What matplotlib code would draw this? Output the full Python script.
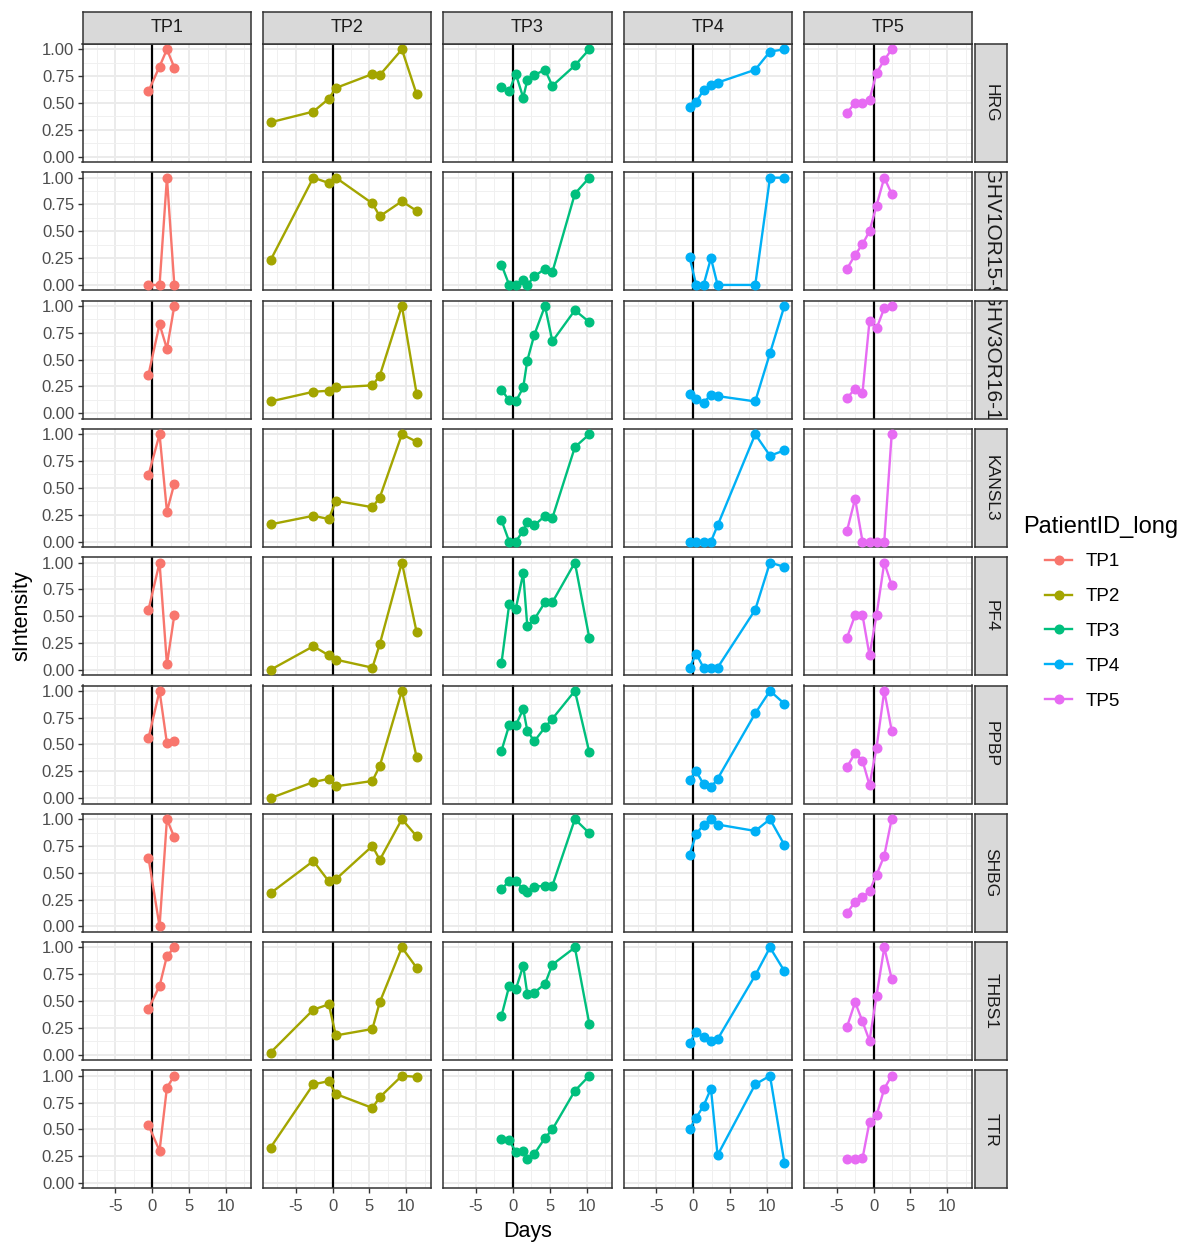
import matplotlib.pyplot as plt
import numpy as np
from matplotlib.lines import Line2D
from matplotlib.ticker import MultipleLocator, FormatStrFormatter

plt.rcParams["font.family"] = ["Liberation Sans", "DejaVu Sans"]
plt.rcParams["axes.unicode_minus"] = False

patients = ["TP1", "TP2", "TP3", "TP4", "TP5"]
colors = ["#F8766D", "#A3A500", "#00BF7D", "#00B0F6", "#E76BF3"]
genes = ["HRG", "IGHV1OR15-9", "IGHV3OR16-10", "KANSL3", "PF4", "PPBP", "SHBG", "THBS1", "TTR"]

# sampling days per patient
days_tp1 = [-0.5, 1.0, 2.0, 3.0]
days_tp2 = [-8.4, -2.6, -0.5, 0.45, 5.4, 6.4, 9.4, 11.4]
days_tp3 = [-1.55, -0.5, 0.4, 1.4, 1.95, 2.9, 4.35, 5.35, 8.4, 10.35]
days_tp4 = [-0.5, 0.4, 1.4, 2.4, 3.3, 8.4, 10.4, 12.35]
days_tp5 = [-3.6, -2.5, -1.5, -0.55, 0.4, 1.45, 2.45]
days = [days_tp1, days_tp2, days_tp3, days_tp4, days_tp5]

# scaled intensity per gene, one list per patient (TP1..TP5)
hrg = [
    [0.61, 0.84, 1.00, 0.83],
    [0.32, 0.42, 0.54, 0.64, 0.77, 0.76, 1.00, 0.58],
    [0.65, 0.61, 0.77, 0.55, 0.71, 0.76, 0.81, 0.66, 0.85, 1.00],
    [0.46, 0.51, 0.62, 0.67, 0.69, 0.81, 0.98, 1.00],
    [0.41, 0.50, 0.50, 0.53, 0.78, 0.90, 1.00],
]
ighv1 = [
    [0.00, 0.00, 1.00, 0.00],
    [0.23, 1.00, 0.95, 1.00, 0.76, 0.64, 0.78, 0.69],
    [0.19, 0.00, 0.00, 0.05, 0.00, 0.08, 0.15, 0.12, 0.85, 1.00],
    [0.26, 0.00, 0.00, 0.25, 0.00, 0.00, 1.00, 1.00],
    [0.15, 0.28, 0.38, 0.50, 0.74, 1.00, 0.85],
]
ighv3 = [
    [0.36, 0.83, 0.60, 1.00],
    [0.11, 0.20, 0.21, 0.24, 0.26, 0.35, 1.00, 0.18],
    [0.22, 0.12, 0.11, 0.24, 0.49, 0.73, 1.00, 0.67, 0.96, 0.85],
    [0.18, 0.13, 0.10, 0.17, 0.16, 0.11, 0.56, 1.00],
    [0.14, 0.23, 0.19, 0.86, 0.79, 0.98, 1.00],
]
kansl3 = [
    [0.62, 1.00, 0.28, 0.54],
    [0.16, 0.24, 0.21, 0.38, 0.32, 0.41, 1.00, 0.93],
    [0.20, 0.00, 0.00, 0.10, 0.18, 0.15, 0.24, 0.22, 0.88, 1.00],
    [0.00, 0.00, 0.00, 0.00, 0.15, 1.00, 0.80, 0.85],
    [0.10, 0.40, 0.00, 0.00, 0.00, 0.00, 1.00],
]
pf4 = [
    [0.56, 1.00, 0.05, 0.51],
    [0.00, 0.22, 0.135, 0.095, 0.02, 0.24, 1.00, 0.35],
    [0.06, 0.61, 0.57, 0.90, 0.41, 0.47, 0.63, 0.63, 1.00, 0.30],
    [0.02, 0.15, 0.02, 0.015, 0.02, 0.56, 1.00, 0.96],
    [0.30, 0.51, 0.51, 0.135, 0.51, 1.00, 0.79],
]
ppbp = [
    [0.56, 1.00, 0.51, 0.53],
    [0.00, 0.15, 0.18, 0.11, 0.16, 0.30, 1.00, 0.38],
    [0.44, 0.68, 0.68, 0.83, 0.63, 0.53, 0.66, 0.74, 1.00, 0.43],
    [0.17, 0.25, 0.13, 0.10, 0.18, 0.79, 1.00, 0.88],
    [0.29, 0.42, 0.35, 0.12, 0.47, 1.00, 0.63],
]
shbg = [
    [0.64, 0.00, 1.00, 0.83],
    [0.31, 0.61, 0.42, 0.44, 0.75, 0.62, 1.00, 0.84],
    [0.35, 0.42, 0.42, 0.35, 0.32, 0.37, 0.38, 0.38, 1.00, 0.87],
    [0.67, 0.86, 0.95, 1.00, 0.95, 0.89, 1.00, 0.76],
    [0.125, 0.23, 0.27, 0.33, 0.48, 0.66, 1.00],
]
thbs1 = [
    [0.43, 0.64, 0.92, 1.00],
    [0.02, 0.42, 0.47, 0.18, 0.24, 0.49, 1.00, 0.81],
    [0.36, 0.64, 0.61, 0.83, 0.57, 0.58, 0.66, 0.84, 1.00, 0.29],
    [0.11, 0.21, 0.17, 0.13, 0.145, 0.74, 1.00, 0.78],
    [0.26, 0.49, 0.31, 0.13, 0.55, 1.00, 0.71],
]
ttr = [
    [0.54, 0.30, 0.89, 1.00],
    [0.33, 0.92, 0.95, 0.83, 0.70, 0.80, 1.00, 0.99],
    [0.41, 0.40, 0.29, 0.30, 0.22, 0.27, 0.42, 0.50, 0.86, 1.00],
    [0.50, 0.61, 0.72, 0.88, 0.26, 0.92, 1.00, 0.19],
    [0.22, 0.22, 0.23, 0.57, 0.63, 0.88, 1.00],
]
values = [hrg, ighv1, ighv3, kansl3, pf4, ppbp, shbg, thbs1, ttr]

W, H = 1192, 1246
fig = plt.figure(figsize=(W / 100, H / 100), dpi=100)


def box(left, top, width, height):
    # pixel box (from top-left) -> figure fraction
    return [left / W, 1 - (top + height) / H, width / W, height / H]


all_days = np.concatenate(days)
span = all_days.max() - all_days.min()
xlim = (all_days.min() - 0.05 * span, all_days.max() + 0.05 * span)

panel_left, panel_top = 82.5, 44
panel_w, panel_h = 168.5, 118
col_step, row_step = 180.35, 128.3
border = "#333333"


def strip(rect, label, rotation, size):
    sax = fig.add_axes(rect)
    sax.set_facecolor("#D9D9D9")
    sax.set_xticks([])
    sax.set_yticks([])
    for sp in sax.spines.values():
        sp.set_color(border)
        sp.set_linewidth(1.1)
    t = sax.text(0.5, 0.5, label, transform=sax.transAxes, ha="center", va="center",
                 rotation=rotation, fontsize=size, color="#1A1A1A")
    # long labels overflow the strip and get cut, like in the original
    t.set_clip_box(sax.bbox)
    t.set_clip_on(True)


for r, gene in enumerate(genes):
    top = panel_top + r * row_step
    for c, pid in enumerate(patients):
        left = panel_left + c * col_step
        ax = fig.add_axes(box(left, top, panel_w, panel_h))
        ax.set_xlim(xlim)
        ax.set_ylim(-0.05, 1.05)
        ax.xaxis.set_major_locator(MultipleLocator(5))
        ax.xaxis.set_minor_locator(MultipleLocator(2.5))
        ax.yaxis.set_major_locator(MultipleLocator(0.25))
        ax.yaxis.set_minor_locator(MultipleLocator(0.125))
        ax.yaxis.set_major_formatter(FormatStrFormatter("%.2f"))
        ax.set_axisbelow(True)
        ax.grid(which="major", color="#EBEBEB", lw=1.4)
        ax.grid(which="minor", color="#F0F0F0", lw=0.7)
        for sp in ax.spines.values():
            sp.set_color(border)
            sp.set_linewidth(1.1)

        ax.axvline(0, color="black", lw=1.6, zorder=2)
        ax.plot(days[c], values[r][c], color=colors[c], lw=1.7, marker="o", ms=6.2, zorder=3)

        ax.tick_params(which="minor", length=0)
        ax.tick_params(which="major", length=3.5, width=1.0, color=border, labelcolor="#4D4D4D",
                       labelsize=12)
        ax.tick_params(axis="y", left=(c == 0), labelleft=(c == 0), pad=2.5)
        ax.tick_params(axis="x", bottom=(r == len(genes) - 1), labelbottom=(r == len(genes) - 1), pad=4)

        if r == 0:
            strip(box(left, 12, panel_w, 32), pid, 0, 13)
    strip(box(974.5, top, 33, panel_h), gene, -90, 15 if len(gene) > 8 else 12.6)

fig.text(22 / W, 1 - 616 / H, "sIntensity", rotation=90, ha="center", va="center", fontsize=15.5)
fig.text(527.5 / W, 1 - 1231 / H, "Days", ha="center", va="center", fontsize=15.5)

# legend: title flush left, keys slightly indented
fig.text(1023 / W, 1 - 527 / H, "PatientID_long", ha="left", va="center", fontsize=17)
handles = [Line2D([], [], color=col, lw=1.7, marker="o", ms=6.2) for col in colors]
fig.legend(handles, patients, loc="upper left", bbox_to_anchor=(1045 / W, 1 - 553 / H),
           frameon=False, fontsize=13.5, handlelength=1.45, handletextpad=0.7,
           labelspacing=0.95, borderaxespad=0, borderpad=0)

plt.savefig("out.png", dpi=100)
